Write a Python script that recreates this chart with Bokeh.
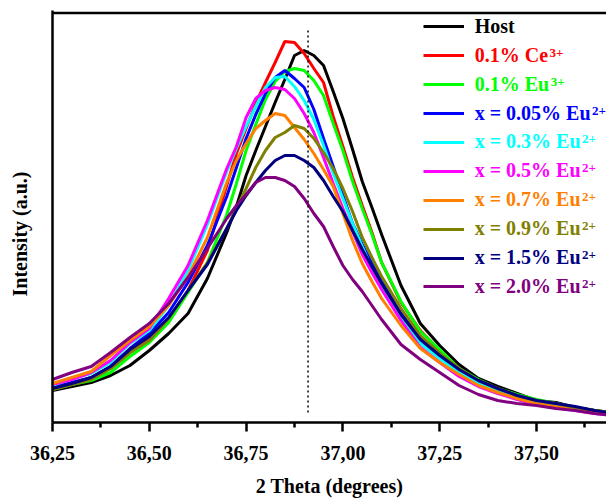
import math
from bokeh.plotting import figure
from bokeh.models import (Range1d, FixedTicker, Label, Legend,
                          LegendItem, CustomJSTickFormatter)
from bokeh.embed import file_html
from bokeh.resources import INLINE

# ---------------- data ----------------
two_theta = [36.25, 36.30, 36.35, 36.40, 36.45, 36.50, 36.55, 36.60, 36.65, 36.70,
             36.725, 36.75, 36.775, 36.80, 36.825, 36.85, 36.875, 36.90, 36.925, 36.95,
             36.975, 37.00, 37.025, 37.05, 37.075,
             37.10, 37.15, 37.20, 37.25, 37.30, 37.35, 37.40, 37.45, 37.50, 37.55,
             37.60, 37.65, 37.70]

host = [32, 36, 40, 47, 57, 72, 89, 109, 144, 190,
        216, 247, 272, 296, 320, 343, 367, 372, 367, 357, 331, 304, 273, 241, 215,
        188, 137, 99, 77, 58, 44, 36, 29, 22, 20, 15, 12, 10]
ce_01 = [34, 39, 44, 54, 70, 84, 104, 132, 172, 237,
         269, 294, 319, 340, 360, 381, 380, 369, 354, 340, 306, 276, 245, 217, 190,
         160, 120, 92, 72, 54, 42, 34, 27, 22, 19, 15, 12, 9]
eu3_01 = [33, 38, 42, 50, 66, 80, 100, 130, 160, 208,
          239, 272, 298, 323, 341, 351, 354, 352, 342, 327, 299, 272, 241, 214, 188,
          160, 121, 91, 73, 54, 43, 34, 28, 23, 19, 15, 12, 9]
eu2_005 = [35, 40, 45, 56, 74, 89, 110, 140, 177, 226,
           255, 284, 308, 329, 345, 352, 344, 335, 313, 284, 256, 227, 199, 178, 159,
           141, 109, 85, 68, 52, 41, 33, 26, 21, 18, 15, 11, 9]
eu2_03 = [37, 44, 49, 60, 79, 92, 117, 152, 198, 251,
          274, 296, 316, 335, 345, 346, 336, 322, 303, 277, 249, 224, 199, 176, 154,
          137, 104, 79, 64, 50, 39, 31, 25, 20, 17, 14, 11, 8]
eu2_05 = [38, 43, 50, 62, 80, 94, 124, 157, 202, 254,
          276, 305, 324, 332, 335, 333, 324, 309, 290, 265, 239, 214, 191, 168, 150,
          133, 102, 75, 60, 46, 36, 29, 23, 18, 15, 12, 9, 7]
eu2_07 = [39, 45, 51, 67, 82, 96, 117, 146, 185, 240,
          262, 279, 294, 302, 309, 307, 295, 283, 269, 253, 236, 209, 182, 159, 141,
          124, 97, 74, 60, 48, 37, 30, 24, 19, 16, 13, 10, 8]
eu2_09 = [33, 38, 43, 54, 70, 82, 104, 132, 160, 194,
          214, 234, 255, 272, 285, 290, 297, 294, 284, 270, 254, 234, 211, 185, 165,
          146, 114, 87, 69, 54, 42, 34, 27, 22, 19, 15, 12, 9]
eu2_15 = [34, 39, 45, 56, 73, 86, 105, 132, 158, 194,
          212, 227, 240, 252, 262, 267, 267, 262, 255, 242, 226, 211, 192, 173, 156,
          139, 108, 83, 67, 53, 42, 34, 27, 22, 19, 16, 12, 9]
eu2_20 = [43, 50, 56, 70, 85, 99, 119, 145, 174, 204,
          217, 228, 240, 245, 245, 242, 236, 224, 209, 196, 176, 157, 143, 131, 117,
          103, 78, 63, 50, 37, 28, 22, 19, 17, 14, 12, 9, 7]

series = [host, ce_01, eu3_01, eu2_005, eu2_03, eu2_05, eu2_07, eu2_09, eu2_15, eu2_20]
labels_main = ["Host", "0.1% Ce", "0.1% Eu", "x = 0.05% Eu", "x = 0.3% Eu",
               "x = 0.5% Eu", "x = 0.7% Eu", "x = 0.9% Eu", "x = 1.5% Eu", "x = 2.0% Eu"]
labels_sup = ["", "3+", "3+", "2+", "2+", "2+", "2+", "2+", "2+", "2+"]
colors = ["#000000", "#ff0000", "#00ff00", "#0000ff", "#00ffff",
          "#ff00ff", "#ff8000", "#808000", "#000080", "#800080"]

x_ticks = [36.25, 36.50, 36.75, 37.00, 37.25, 37.50]
x_tick_labels = ["36,25", "36,50", "36,75", "37,00", "37,25", "37,50"]
x_minor_ticks = [36.375, 36.625, 36.875, 37.125, 37.375, 37.625]
ref_peak = 36.91
ref_span = [10, 392]

# ---------------- layout ----------------
FONT = "Liberation Serif"
W, H = 606, 500
BL, BR, BT, BB = 52, 0, 10, 78
PX_PER_DEG = 387.2
x_start = 36.25
x_end = x_start + (W - BL - BR) / PX_PER_DEG
y_top = H - BT - BB

p = figure(width=W, height=H, x_range=Range1d(x_start, x_end), y_range=Range1d(0, y_top),
           output_backend="svg", toolbar_location=None,
           min_border_left=BL, min_border_right=BR, min_border_top=BT, min_border_bottom=BB)
p.xgrid.visible = False
p.ygrid.visible = False
p.outline_line_color = None
p.background_fill_color = "white"
p.border_fill_color = "white"

renderers = []
for vals, color in zip(series, colors):
    renderers.append(p.line(two_theta, vals, line_color=color, line_width=3))

p.segment(x0=[ref_peak], y0=[ref_span[0]], x1=[ref_peak], y1=[ref_span[1]],
          line_color="black", line_width=1.5, line_dash="2 3")

# top border line of the box, drawn just inside the frame
p.segment(x0=[x_start], y0=[y_top - 2.5], x1=[x_end], y1=[y_top - 2.5],
          line_color="black", line_width=2.5)

xa = p.xaxis[0]
xa.ticker = FixedTicker(ticks=x_ticks, minor_ticks=x_minor_ticks)
xa.formatter = CustomJSTickFormatter(
    args=dict(tick_vals=x_ticks, tick_texts=x_tick_labels),
    code="const i = tick_vals.findIndex(t => Math.abs(t - tick) < 1e-6); return i >= 0 ? tick_texts[i] : '';")
xa.axis_line_width = 2.5
xa.major_tick_line_width = 2.5
xa.minor_tick_line_width = 2.5
xa.major_tick_in = 0
xa.major_tick_out = 9
xa.minor_tick_in = 0
xa.minor_tick_out = 5
xa.major_label_text_font = FONT
xa.major_label_text_font_style = "bold"
xa.major_label_text_font_size = "20px"
xa.major_label_text_color = "black"
xa.major_label_standoff = 14
xa.axis_label = "2 Theta (degrees)"
xa.axis_label_text_font = FONT
xa.axis_label_text_font_style = "bold"
xa.axis_label_text_font_size = "20px"
xa.axis_label_text_color = "black"
xa.axis_label_standoff = 12

ya = p.yaxis[0]
ya.ticker = FixedTicker(ticks=[])
ya.axis_line_width = 2.5
ya.major_tick_out = 0
ya.minor_tick_out = 0
# trailing no-break spaces shift the centred label slightly below the frame centre
ya.axis_label = "Intensity (a.u.)" + "\u00a0" * 7
ya.axis_label_text_font = FONT
ya.axis_label_text_font_style = "bold"
ya.axis_label_text_font_size = "20px"
ya.axis_label_text_color = "black"
ya.axis_label_standoff = 22

# ---------------- legend (one per entry, to colour each label) ----------------
ADV = {'0': 500, '1': 500, '2': 500, '3': 500, '4': 500, '5': 500, '6': 500, '7': 500,
       '8': 500, '9': 500, '.': 250, '%': 1000, ' ': 250, 'C': 722, 'e': 444, 'E': 667,
       'u': 556, 'x': 500, '=': 570, 'H': 778, 'o': 500, 's': 389, 't': 333}
def text_w(s, size):
    return sum(ADV.get(c, 500) for c in s) * size / 1000.0

LEG_X = 370.7
LEG_Y0 = 395.7
LEG_DY = 28.9
ITEM_H = 26
GLYPH_W = 41
STANDOFF = 11
for i, (r, txt, sup, color) in enumerate(zip(renderers, labels_main, labels_sup, colors)):
    yc = LEG_Y0 - i * LEG_DY
    leg = Legend(items=[LegendItem(label=txt, renderers=[r])],
                 location=(LEG_X, yc - ITEM_H / 2),
                 glyph_width=GLYPH_W, glyph_height=ITEM_H, label_height=ITEM_H,
                 label_standoff=STANDOFF, padding=0, margin=0, spacing=0,
                 border_line_color=None, background_fill_alpha=0,
                 label_text_color=color, label_text_font=FONT,
                 label_text_font_style="bold", label_text_font_size="20px")
    p.add_layout(leg)
    if sup:
        sx = LEG_X + GLYPH_W + STANDOFF + text_w(txt, 20) + 1
        p.add_layout(Label(x=sx, y=yc + 3, x_units="screen", y_units="screen",
                           text=sup, text_align="left", text_baseline="alphabetic",
                           text_font=FONT, text_font_style="bold", text_font_size="13px",
                           text_color=color))

open("out.html", "w").write(file_html(p, INLINE))
